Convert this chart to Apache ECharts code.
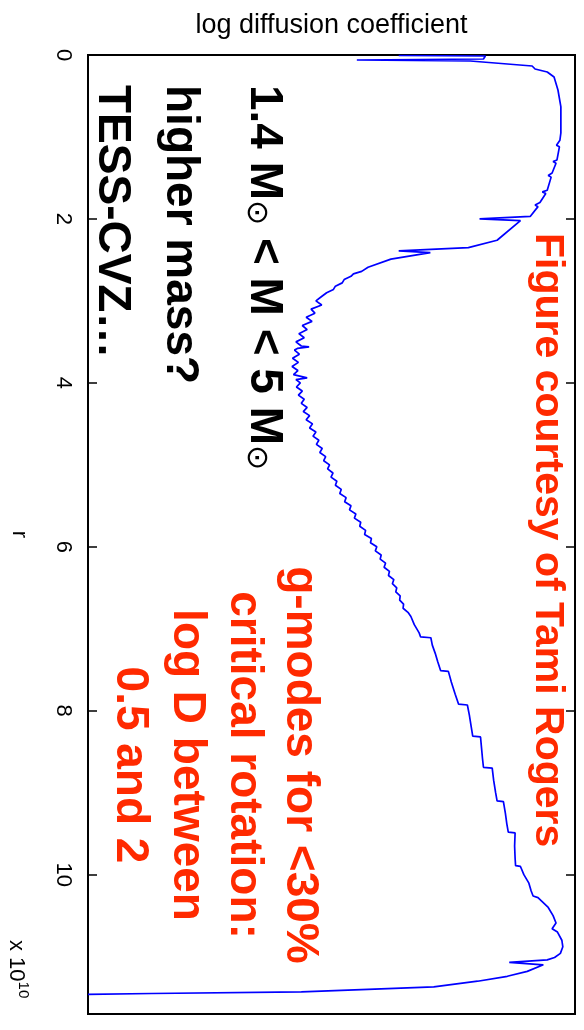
<!DOCTYPE html>
<html>
<head>
<meta charset="utf-8">
<script src="https://cdn.jsdelivr.net/npm/echarts@6/dist/echarts.min.js"></script>
<style>
  html, body { margin: 0; padding: 0; background: #fff; }
  #chart { width: 584px; height: 1030px; }
</style>
</head>
<body>
<div id="chart"></div>
<script>
// radius r (units of 1e10) and log diffusion coefficient
const rValues = [
  0.006, 0.012, 0.049, 0.061, 0.073, 0.134, 0.171, 0.207, 0.268, 0.427,
  0.634, 0.951, 1.04, 1.10, 1.12, 1.28, 1.30, 1.32, 1.44, 1.47,
  1.49, 1.65, 1.67, 1.69, 1.80, 1.83, 1.85, 1.97, 2.00, 2.02,
  2.26, 2.35, 2.39, 2.41, 2.49, 2.59, 2.64, 2.67, 2.70, 2.74,
  2.78, 2.82, 2.86, 2.90, 2.95, 3.00, 3.05, 3.10, 3.15, 3.20,
  3.25, 3.30, 3.35, 3.40, 3.45, 3.50, 3.55, 3.56, 3.58, 3.60,
  3.65, 3.70, 3.75, 3.80, 3.85, 3.90, 3.94, 3.96, 4.00, 4.05,
  4.10, 4.15, 4.20, 4.25, 4.30, 4.35, 4.40, 4.45, 4.50, 4.55,
  4.60, 4.65, 4.70, 4.75, 4.80, 4.85, 4.90, 4.95, 5.00, 5.05,
  5.10, 5.15, 5.20, 5.25, 5.30, 5.35, 5.40, 5.45, 5.50, 5.55,
  5.60, 5.65, 5.70, 5.75, 5.80, 5.85, 5.90, 5.95, 6.00, 6.05,
  6.10, 6.15, 6.20, 6.25, 6.30, 6.35, 6.40, 6.45, 6.50, 6.55,
  6.60, 6.65, 6.70, 6.75, 6.80, 6.85, 6.95, 7.05, 7.10, 7.11,
  7.20, 7.30, 7.40, 7.51, 7.52, 7.65, 7.80, 7.92, 7.93, 8.05,
  8.20, 8.31, 8.32, 8.45, 8.58, 8.69, 8.70, 8.85, 9.00, 9.10,
  9.11, 9.25, 9.38, 9.48, 9.49, 9.65, 9.80, 9.89, 9.90, 10.00,
  10.10, 10.20, 10.26, 10.28, 10.40, 10.50, 10.59, 10.66, 10.70, 10.80,
  10.88, 10.96, 11.01, 11.04, 11.07, 11.10, 11.18, 11.24, 11.30, 11.37,
  11.40, 11.43, 11.45, 11.46
];
const logDValues = [
  6.38, 8.16, 8.12, 5.52, 7.85, 9.12, 9.18, 9.43, 9.57, 9.65,
  9.71, 9.71, 9.69, 9.62, 9.68, 9.63, 9.55, 9.61, 9.53, 9.45,
  9.51, 9.43, 9.33, 9.40, 9.28, 9.18, 9.24, 9.08, 8.04, 8.88,
  8.40, 7.81, 6.38, 7.03, 6.22, 5.75, 5.62, 5.45, 5.40, 5.26,
  5.22, 5.08, 5.04, 4.90, 4.79, 4.68, 4.80, 4.58, 4.66, 4.48,
  4.60, 4.40, 4.50, 4.33, 4.44, 4.27, 4.38, 4.54, 4.30, 4.24,
  4.34, 4.20, 4.32, 4.19, 4.31, 4.22, 4.50, 4.27, 4.36, 4.28,
  4.40, 4.32, 4.44, 4.38, 4.50, 4.42, 4.55, 4.48, 4.61, 4.55,
  4.68, 4.62, 4.74, 4.69, 4.81, 4.76, 4.88, 4.84, 4.96, 4.92,
  5.03, 4.99, 5.11, 5.08, 5.20, 5.17, 5.30, 5.27, 5.40, 5.37,
  5.50, 5.47, 5.60, 5.58, 5.70, 5.68, 5.82, 5.80, 5.93, 5.90,
  6.02, 6.00, 6.11, 6.08, 6.19, 6.17, 6.28, 6.25, 6.34, 6.32,
  6.41, 6.40, 6.48, 6.47, 6.57, 6.63, 6.70, 6.80, 6.83, 7.04,
  7.07, 7.13, 7.18, 7.24, 7.40, 7.46, 7.54, 7.61, 7.79, 7.83,
  7.87, 7.90, 8.06, 8.08, 8.10, 8.12, 8.30, 8.33, 8.37, 8.40,
  8.53, 8.57, 8.60, 8.63, 8.77, 8.76, 8.77, 8.78, 8.88, 8.95,
  9.05, 9.10, 9.14, 9.24, 9.45, 9.55, 9.61, 9.53, 9.64, 9.73,
  9.75, 9.70, 9.58, 9.43, 8.65, 9.35, 9.02, 8.61, 8.00, 7.10,
  5.75, 4.38, 1.31, 0.00
];
const rTicks = [0, 2, 4, 6, 8, 10];
const redLines = ['g-modes for <30%', 'critical rotation:', 'log D between', '0.5 and 2'];

const chart = echarts.init(document.getElementById('chart'));
const profile = rValues.map((r, i) => [logDValues[i], r]);

const bold = { fontFamily: 'Liberation Sans, Arial, sans-serif', fontWeight: 'bold', fontSize: 46 };
const red = '#ff2a00';

// red annotation lines, centred on one spot
const redX = [300, 244, 187, 130];
const redText = redLines.map((t, i) => ({
  type: 'text', x: redX[i], y: 765, rotation: -Math.PI / 2,
  style: Object.assign({ text: t, fill: red, align: 'center', verticalAlign: 'middle' }, bold)
}));

const option = {
  animation: false,
  backgroundColor: '#fff',
  grid: { left: 86, right: 9, top: 55, bottom: 16, show: true, borderColor: '#000', borderWidth: 2, backgroundColor: 'transparent' },
  xAxis: {
    type: 'value', position: 'top', min: 0, max: 10,
    name: 'log diffusion coefficient', nameLocation: 'middle', nameGap: 16,
    nameTextStyle: { fontSize: 27, color: '#000', fontFamily: 'Liberation Sans, Arial, sans-serif', verticalAlign: 'bottom' },
    axisLine: { show: false }, axisTick: { show: false }, axisLabel: { show: false }, splitLine: { show: false }
  },
  yAxis: [{
    type: 'value', inverse: true, min: 0, max: 11.7, position: 'left',
    name: 'r', nameLocation: 'middle', nameGap: 58, nameRotate: -90,
    nameTextStyle: { fontSize: 22, color: '#000', fontFamily: 'Liberation Sans, Arial, sans-serif' },
    axisLine: { show: false },
    axisTick: { show: true, inside: true, length: 9, customValues: rTicks, lineStyle: { color: '#000', width: 1.5 } },
    axisLabel: { rotate: -90, margin: 14, fontSize: 22, color: '#000', fontFamily: 'Liberation Sans, Arial, sans-serif', customValues: rTicks },
    splitLine: { show: false }
  }, {
    type: 'value', inverse: true, min: 0, max: 11.7, position: 'right',
    axisLine: { show: false },
    axisTick: { show: true, inside: true, length: 9, customValues: rTicks, lineStyle: { color: '#000', width: 1.5 } },
    axisLabel: { show: false }, splitLine: { show: false }
  }],
  series: [{
    type: 'line', data: profile, showSymbol: false, symbol: 'none',
    lineStyle: { color: '#0000ff', width: 1.7 }, xAxisIndex: 0, yAxisIndex: 0
  }],
  graphic: [
    {
      type: 'text', x: 264, y: 85, rotation: -Math.PI / 2,
      style: Object.assign({
        text: '1.4 M{sun|⊙} < M < 5 M{sun|⊙}', fill: '#000', align: 'left', verticalAlign: 'middle',
        rich: { sun: { fontFamily: 'DejaVu Sans', fontSize: 30, verticalAlign: 'bottom', fill: '#000', padding: [14, 0, 0, 0] } }
      }, bold)
    },
    {
      type: 'text', x: 180, y: 85, rotation: -Math.PI / 2,
      style: Object.assign({ text: 'higher mass?', fill: '#000', align: 'left', verticalAlign: 'middle' }, bold)
    },
    {
      type: 'text', x: 112, y: 85, rotation: -Math.PI / 2,
      style: Object.assign({ text: 'TESS-CVZ…', fill: '#000', align: 'left', verticalAlign: 'middle' }, bold)
    },
    {
      type: 'text', x: 547, y: 233, rotation: -Math.PI / 2,
      style: Object.assign({ text: 'Figure courtesy of Tami Rogers', fill: red, align: 'left', verticalAlign: 'middle' }, bold, { fontSize: 41 })
    },
    ...redText,
    {
      type: 'text', x: 16, y: 940, rotation: -Math.PI / 2,
      style: {
        text: 'x 10{sup|10}', fill: '#000', align: 'left', verticalAlign: 'middle',
        fontSize: 22, fontFamily: 'Liberation Sans, Arial, sans-serif',
        rich: { sup: { fontSize: 15, verticalAlign: 'top', padding: [0, 0, 14, 0], fill: '#000', fontFamily: 'Liberation Sans, Arial, sans-serif' } }
      }
    }
  ]
};
chart.setOption(option);
window.addEventListener('resize', () => chart.resize());
</script>
</body>
</html>
